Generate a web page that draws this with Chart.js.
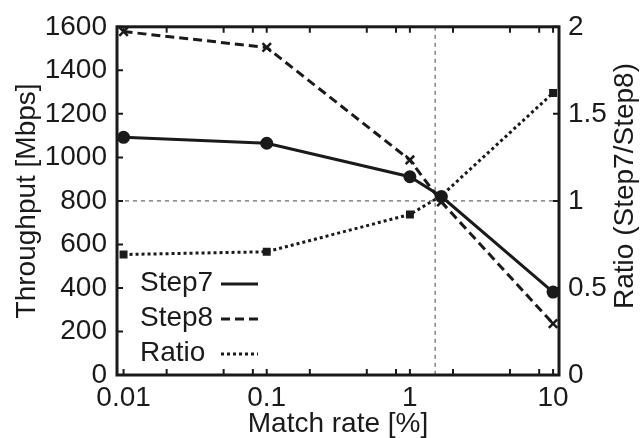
<!DOCTYPE html>
<html>
<head>
<meta charset="utf-8">
<script src="https://cdn.jsdelivr.net/npm/chart.js@4.4.1/dist/chart.umd.min.js"></script>
<style>
  html, body { margin: 0; padding: 0; background: #fff; }
  #wrap { width: 640px; height: 438px; }
</style>
</head>
<body>
<div id="wrap"><canvas id="chart" width="640" height="438"></canvas></div>
<script>
/* Throughput of Step7 / Step8 vs match rate, with ratio on the right axis */

const matchRates = [0.01, 0.1, 1, 1.66, 10];
const step7      = [1092, 1065, 911, 820, 381];
const step8      = [1578, 1505, 988, 795, 236];
const ratio      = [0.692, 0.708, 0.922, 1.03, 1.62];

const xTicks  = [0.01, 0.02, 0.05, 0.08, 0.1, 0.2, 0.5, 0.8, 1, 2, 5, 8, 10];
const xLabels = [0.01, 0.1, 1, 10];
const refX = 1.5;   // vertical dashed line
const refY = 800;   // horizontal dashed line (ratio = 1)

const INK  = '#1a1a1a';
const FONT = "'Liberation Sans', Arial, Helvetica, sans-serif";

Chart.defaults.font.family = FONT;
Chart.defaults.font.size = 28;
Chart.defaults.color = INK;

const pts = vals => vals.map((v, i) => ({ x: matchRates[i], y: v }));

// crosshair, inward ticks, frame, legend and right title
const framePlugin = {
  id: 'frame',
  beforeDatasetsDraw(chart) {
    const { ctx, chartArea: a, scales } = chart;
    const x = scales.x.getPixelForValue(refX);
    const y = scales.y.getPixelForValue(refY);
    ctx.save();
    ctx.strokeStyle = '#444';
    ctx.lineWidth = 1;
    ctx.setLineDash([4, 4]);
    ctx.beginPath();
    ctx.moveTo(x, a.top);  ctx.lineTo(x, a.bottom);
    ctx.moveTo(a.left, y); ctx.lineTo(a.right, y);
    ctx.stroke();
    ctx.restore();
  },
  afterDatasetsDraw(chart) {
    const { ctx, chartArea: a, scales } = chart;
    const len = 6;
    ctx.save();
    ctx.strokeStyle = INK;
    ctx.lineWidth = 2;
    ctx.beginPath();
    scales.x.ticks.forEach(t => {
      const px = scales.x.getPixelForValue(t.value);
      ctx.moveTo(px, a.bottom); ctx.lineTo(px, a.bottom - len);
      ctx.moveTo(px, a.top);    ctx.lineTo(px, a.top + len);
    });
    scales.y.ticks.forEach(t => {
      const py = scales.y.getPixelForValue(t.value);
      ctx.moveTo(a.left, py); ctx.lineTo(a.left + len, py);
    });
    scales.y1.ticks.forEach(t => {
      const py = scales.y1.getPixelForValue(t.value);
      ctx.moveTo(a.right, py); ctx.lineTo(a.right - len, py);
    });
    ctx.stroke();

    ctx.lineWidth = 3;
    ctx.strokeRect(a.left, a.top, a.right - a.left, a.bottom - a.top);

    // legend: label then line sample
    ctx.font = `28px ${FONT}`;
    ctx.fillStyle = INK;
    ctx.textBaseline = 'middle';
    ctx.textAlign = 'left';
    chart.data.datasets.forEach((ds, i) => {
      const y = 283 + i * 35;
      ctx.fillText(ds.label, 140, y);
      ctx.setLineDash(ds.borderDash || []);
      ctx.lineWidth = ds.borderWidth;
      ctx.beginPath();
      ctx.moveTo(221, y + 1);
      ctx.lineTo(258, y + 1);
      ctx.stroke();
    });
    ctx.setLineDash([]);

    // right axis title, reading bottom to top
    ctx.translate(625, 186);
    ctx.rotate(-Math.PI / 2);
    ctx.textAlign = 'center';
    ctx.fillText('Ratio (Step7/Step8)', 0, 0);
    ctx.restore();
  }
};

new Chart(document.getElementById('chart'), {
  type: 'line',
  data: {
    datasets: [
      {
        label: 'Step7',
        data: pts(step7),
        yAxisID: 'y',
        borderColor: INK,
        borderWidth: 3,
        pointStyle: 'circle',
        pointRadius: 5,
        pointBackgroundColor: INK,
        pointBorderColor: INK,
      },
      {
        label: 'Step8',
        data: pts(step8),
        yAxisID: 'y',
        borderColor: INK,
        borderWidth: 3,
        borderDash: [9, 5],
        pointStyle: 'crossRot',
        pointRadius: 6,
        pointBorderWidth: 2.5,
        pointBorderColor: INK,
      },
      {
        label: 'Ratio',
        data: pts(ratio),
        yAxisID: 'y1',
        borderColor: INK,
        borderWidth: 3,
        borderDash: [3, 3],
        pointStyle: 'rect',
        pointRadius: 3.5,
        pointBackgroundColor: INK,
        pointBorderColor: INK,
      }
    ]
  },
  options: {
    responsive: false,
    animation: false,
    devicePixelRatio: 1,
    layout: { padding: { top: 22, left: 0, right: 0, bottom: 0 } },
    plugins: { legend: { display: false }, tooltip: { enabled: false } },
    scales: {
      x: {
        type: 'logarithmic',
        min: 0.009,
        max: 11,
        afterBuildTicks: s => { s.ticks = xTicks.map(v => ({ value: v })); },
        afterFit: s => { s.height = 63; },
        grid: { display: false, drawTicks: false },
        border: { display: false },
        ticks: {
          autoSkip: false,
          maxRotation: 0,
          padding: 6,
          callback: v => xLabels.includes(v) ? String(v) : ''
        },
        title: {
          display: true,
          text: 'Match rate [%]',
          font: { size: 28, lineHeight: 1 },
          padding: { top: 0, bottom: 0 }
        }
      },
      y: {
        position: 'left',
        min: 0,
        max: 1600,
        afterFit: s => { s.width = 117; },
        grid: { display: false, drawTicks: false },
        border: { display: false },
        ticks: { stepSize: 200, padding: 10, callback: v => String(v) },
        title: {
          display: true,
          text: 'Throughput [Mbps]',
          font: { size: 28, lineHeight: 1 },
          padding: { top: 13, bottom: 0 }
        }
      },
      y1: {
        position: 'right',
        min: 0,
        max: 2,
        afterFit: s => { s.width = 81; },
        grid: { display: false, drawTicks: false },
        border: { display: false },
        ticks: { stepSize: 0.5, padding: 9, callback: v => String(v) }
      }
    }
  },
  plugins: [framePlugin]
});
</script>
</body>
</html>
